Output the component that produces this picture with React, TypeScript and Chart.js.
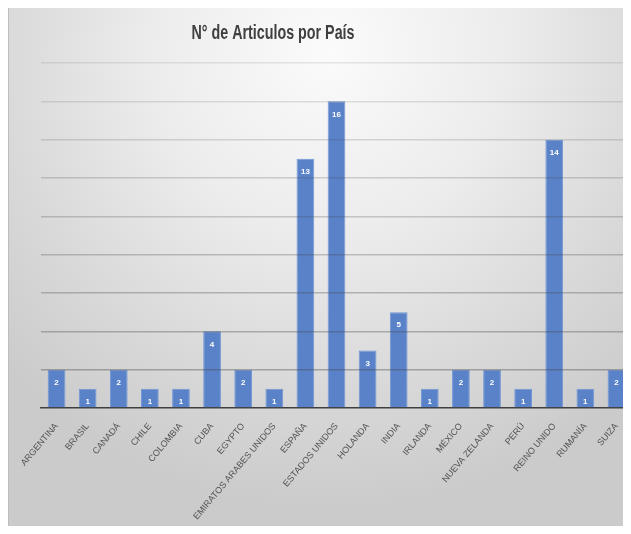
import React, { useEffect, useRef } from "react";
import { Chart, registerables } from "chart.js";

Chart.register(...registerables);

const TITLE = "N° de Articulos por País";
const countries = [
  "ARGENTINA", "BRASIL", "CANADÁ", "CHILE", "COLOMBIA", "CUBA", "EGYPTO",
  "EMIRATOS ARABES UNIDOS", "ESPAÑA", "ESTADOS UNIDOS", "HOLANDA", "INDIA",
  "IRLANDA", "MÉXICO", "NUEVA ZELANDA", "PERÚ", "REINO UNIDO", "RUMANÍA", "SUIZA",
];
const articles = [2, 1, 2, 1, 1, 4, 2, 1, 13, 16, 3, 5, 1, 2, 2, 1, 14, 1, 2];
const yMin = 0;
const yMax = 18;
const yStep = 2;

const titlePlugin = {
  id: "customTitle",
  afterDraw(chart: any) {
    const ctx = chart.ctx;
    ctx.save();
    ctx.font = "bold 20px 'Liberation Sans', sans-serif";
    ctx.fillStyle = "#404040";
    ctx.textAlign = "center";
    ctx.textBaseline = "middle";
    const w = ctx.measureText(TITLE).width;
    const sx = Math.min(1, 163 / w);
    ctx.translate(264, 26);
    ctx.scale(sx, 1);
    ctx.fillText(TITLE, 0, 0);
    ctx.restore();
  },
};

const labelPlugin = {
  id: "barLabels",
  afterDatasetsDraw(chart: any) {
    const ctx = chart.ctx;
    const meta = chart.getDatasetMeta(0);
    const data = chart.data.datasets[0].data;
    ctx.save();
    ctx.font = "bold 8px 'Liberation Sans', sans-serif";
    ctx.fillStyle = "#ffffff";
    ctx.textAlign = "center";
    ctx.textBaseline = "middle";
    meta.data.forEach((bar: any, i: number) => {
      ctx.fillText(String(data[i]), bar.x, bar.y + 13);
    });
    ctx.restore();
  },
};

export default function App() {
  const canvasRef = useRef<HTMLCanvasElement | null>(null);

  useEffect(() => {
    if (!canvasRef.current) return;
    const chart = new Chart(canvasRef.current, {
      type: "bar",
      data: {
        labels: countries,
        datasets: [
          {
            data: articles,
            backgroundColor: "#5a82c9",
            borderColor: "#7198d6",
            borderWidth: 1,
            categoryPercentage: 1,
            barPercentage: 0.57,
          },
        ],
      },
      options: {
        animation: false,
        responsive: false,
        maintainAspectRatio: false,
        layout: { padding: { top: 56, left: 32, right: 0, bottom: 0 } },
        plugins: {
          legend: { display: false },
          title: { display: false },
          tooltip: { enabled: false },
        },
        scales: {
          x: {
            grid: { display: false },
            border: { display: true, color: "#3f3f3f", width: 1.5 },
            ticks: {
              autoSkip: false,
              minRotation: 50,
              maxRotation: 50,
              color: "#555555",
              padding: 5,
              font: { family: "'Liberation Sans', sans-serif", size: 9 },
            },
            afterFit(scale: any) {
              scale.height = 126;
            },
          },
          y: {
            min: yMin,
            max: yMax,
            border: { display: false },
            ticks: { display: false, stepSize: yStep },
            grid: {
              drawTicks: false,
              z: 1,
              lineWidth: 1.5,
              color: (ctx: any) => {
                const v = ctx.tick ? ctx.tick.value : 0;
                if (v === 0) return "rgba(0,0,0,0)";
                const a = 0.42 - (v / yMax) * 0.3;
                return `rgba(70,70,70,${a.toFixed(3)})`;
              },
            },
            afterFit(scale: any) {
              scale.width = 0;
            },
          },
        },
      },
      plugins: [titlePlugin, labelPlugin],
    } as any);
    return () => chart.destroy();
  }, []);

  return (
    <div style={{ position: "relative", width: 631, height: 534, margin: -8, overflow: "hidden", background: "#ffffff" }}>
      <div
        style={{
          position: "absolute",
          inset: 0,
          backgroundImage:
            "repeating-linear-gradient(to bottom, transparent 0px, transparent 19.5px, #d4d4d4 19.5px, #d4d4d4 20.5px), repeating-linear-gradient(to right, transparent 0px, transparent 36px, #d4d4d4 36px, #d4d4d4 37px, transparent 37px, transparent 56px)",
        }}
      />
      <div
        style={{
          position: "absolute",
          left: 8,
          top: 6,
          width: 640,
          height: 540,
          borderLeft: "1px solid #bdbdbd",
          borderTop: "1px solid #c6c6c6",
          background:
            "radial-gradient(ellipse 70% 85% at 50% 8%, #fbfbfb 0%, #ececec 40%, #d8d8d8 75%, #cbcbcb 100%)",
        }}
      >
        <canvas ref={canvasRef} width={623} height={527} style={{ display: "block", width: 623, height: 527 }} />
      </div>
    </div>
  );
}
